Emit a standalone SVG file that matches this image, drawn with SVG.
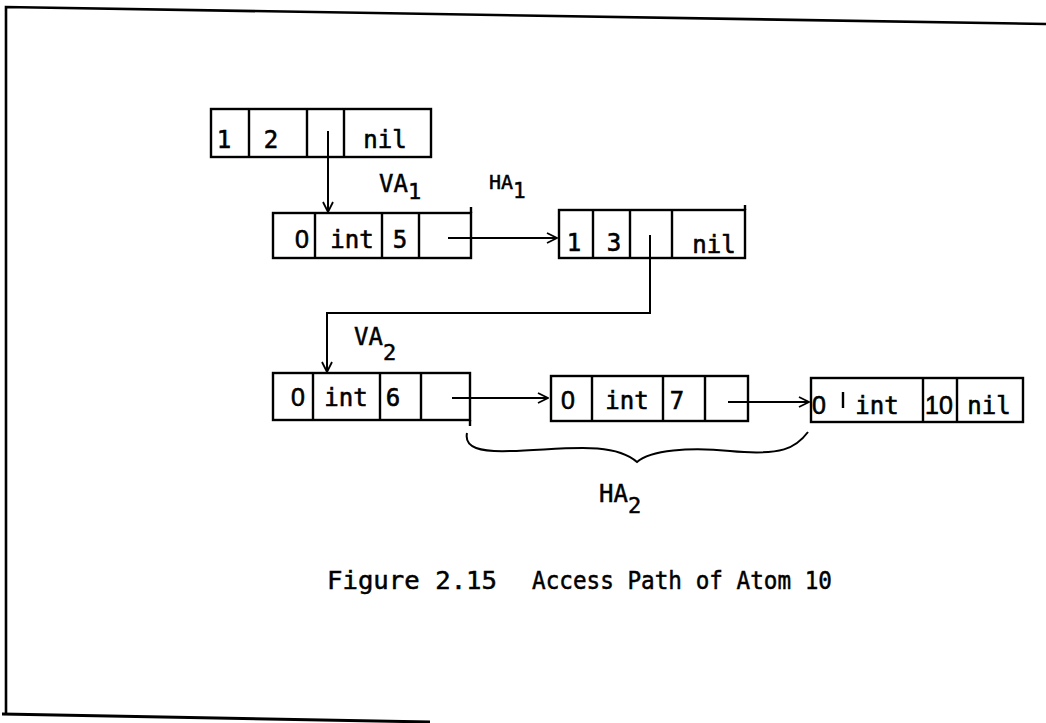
<svg xmlns="http://www.w3.org/2000/svg" width="1046" height="723" viewBox="0 0 1046 723">
<defs>
<marker id="arr" viewBox="0 0 12 12" refX="11" refY="6" markerWidth="12" markerHeight="12" markerUnits="userSpaceOnUse" orient="auto">
<path d="M1,1 L11,6 L1,11" fill="none" stroke="#000" stroke-width="1.8"/>
</marker>
</defs>
<style>
.b{fill:none;stroke:#000;stroke-width:2.4}
.l{fill:none;stroke:#000;stroke-width:2}
.t{font-family:"DejaVu Sans Mono","Liberation Mono",monospace;font-size:24px;fill:#000;stroke:#000;stroke-width:0.6;text-anchor:middle}
.z{font-family:"Liberation Sans","DejaVu Sans",sans-serif;font-size:25px}
.lab{font-family:"DejaVu Sans Mono","Liberation Mono",monospace;font-size:24px;fill:#000;stroke:#000;stroke-width:0.5}
.sub{font-size:22px}
.cap{font-family:"DejaVu Sans Mono","Liberation Mono",monospace;font-size:24px;fill:#000;stroke:#000;stroke-width:0.5}
</style>
<rect width="1046" height="723" fill="#fff"/>
<g id="frame">
<path d="M6,714 L6,7 L1046,24" fill="none" stroke="#000" stroke-width="2.6"/>
<path d="M2,714 L430,722" fill="none" stroke="#000" stroke-width="3"/>
</g>
<g id="node1">
<rect class="b" x="211" y="109" width="220" height="48"/>
<path class="b" d="M249,109V157M307,109V157M344,109V157"/>
<text class="t" x="224" y="148">1</text>
<text class="t" x="271" y="148">2</text>
<text class="t" x="385" y="148">nil</text>
</g>
<g id="node2">
<rect class="b" x="273" y="213" width="198" height="45"/>
<path class="b" d="M315,213V258M382,213V258M419,213V258M471,207V213"/>
<text class="t z" x="302" y="248">0</text>
<text class="t" x="352" y="248">int</text>
<text class="t" x="400" y="248">5</text>
</g>
<g id="node3">
<rect class="b" x="559" y="210" width="186" height="48"/>
<path class="b" d="M593,210V258M630,210V258M672,210V258M745,205V210"/>
<text class="t" x="574" y="251">1</text>
<text class="t" x="614" y="251">3</text>
<text class="t" x="714" y="253">nil</text>
</g>
<g id="node4">
<rect class="b" x="273" y="373" width="197" height="47"/>
<path class="b" d="M313,373V420M380,373V420M421,373V420M470,420V426"/>
<text class="t z" x="298" y="406">0</text>
<text class="t" x="346" y="406">int</text>
<text class="t" x="393" y="406">6</text>
</g>
<g id="node5">
<rect class="b" x="551" y="376" width="197" height="45"/>
<path class="b" d="M592,376V421M663,376V421M705,376V421"/>
<text class="t z" x="568" y="409">0</text>
<text class="t" x="627" y="409">int</text>
<text class="t" x="677" y="409">7</text>
</g>
<g id="node6">
<rect class="b" x="811" y="378" width="212" height="44"/>
<path class="b" d="M843,392V408M923,378V422M957,378V422"/>
<text class="t z" x="819" y="414">0</text>
<text class="t" x="877" y="414">int</text>
<text class="t z" x="939" y="414">10</text>
<text class="t" x="989" y="414">nil</text>
</g>
<g id="labels">
<text class="lab" x="379" y="192">VA<tspan class="sub" dy="7">1</tspan></text>
<text class="lab" x="489" y="189" style="font-size:20px">HA<tspan class="sub" dy="9" style="font-size:21px">1</tspan></text>
<text class="lab" x="354" y="345">VA<tspan class="sub" dy="15">2</tspan></text>
<text class="lab" x="599" y="502">HA<tspan class="sub" dy="11">2</tspan></text>
</g>
<g id="connectors">
<path class="l" d="M328,131 V212" marker-end="url(#arr)"/>
<path class="l" d="M448,238 H557" marker-end="url(#arr)"/>
<path class="l" d="M650,235 V313 H327 V372" marker-end="url(#arr)"/>
<path class="l" d="M452,398 H548" marker-end="url(#arr)"/>
<path class="l" d="M728,402 H809" marker-end="url(#arr)"/>
<path class="l" d="M467,433 C464,448 480,452 510,451 C560,450 612,440 637,462 C650,450 690,447 730,451 C782,456 796,448 808,432"/>
</g>
<g id="caption">
<text class="cap" x="327" y="589" textLength="170" lengthAdjust="spacingAndGlyphs">Figure 2.15</text>
<text class="cap" x="532" y="589" textLength="300" lengthAdjust="spacingAndGlyphs">Access Path of Atom 10</text>
</g>
</svg>
